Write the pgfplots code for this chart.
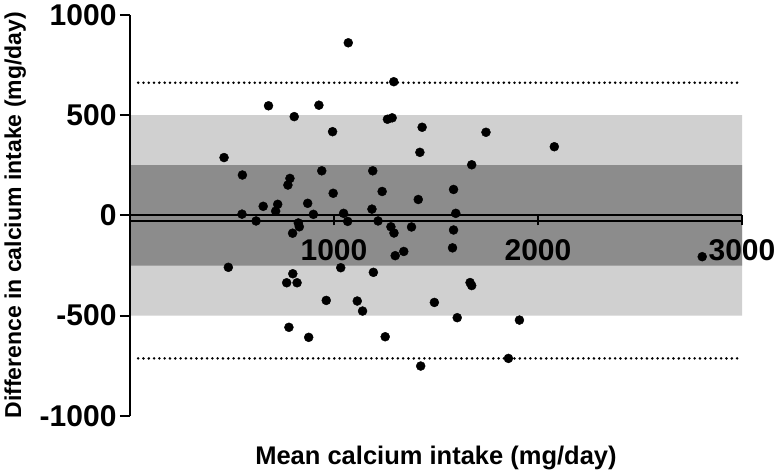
\documentclass[border=0pt]{standalone}
\usepackage{pgfplots}
\pgfplotsset{compat=1.18}
\usepackage{fontspec}
\setmainfont{Liberation Sans}
\definecolor{lightband}{RGB}{208,208,208}
\definecolor{darkband}{RGB}{140,140,140}
\pgfplotstableread{
x y
461 288
482 -259
551 201
549 6
618 -28
653 45
679 546
724 55
714 21
768 -336
779 -558
774 151
784 184
797 -89
798 -291
805 492
819 -336
825 -38
830 -57
871 60
876 -608
899 5
926 549
940 222
962 -424
993 417
996 110
1033 -261
1047 10
1067 -30
1070 860
1114 -427
1140 -477
1190 222
1186 31
1193 -284
1216 -28
1236 119
1251 -605
1262 479
1285 486
1279 -57
1293 666
1294 -88
1300 -201
1342 -180
1380 -58
1413 79
1421 314
1432 439
1425 -751
1492 -434
1581 -162
1586 129
1586 -73
1597 10
1604 -510
1667 -335
1675 -350
1675 252
1745 414
1855 -713
1909 -522
2080 342
2805 -206
}\points
\begin{document}
\begin{tikzpicture}
\begin{axis}[
  set layers,
  scale only axis,
  width=612pt, height=401.3pt,
  at={(0,0)}, anchor=south west,
  xmin=0, xmax=3000, ymin=-1000, ymax=1000,
  axis y line=left, axis x line=middle,
  axis line style={-, line width=2pt, black},
  y axis line style={line width=2.4pt},
  xtick={1000,2000,3000}, xticklabels={1000,2000,3000},
  ytick={-1000,-500,0,500,1000}, yticklabels={-1000,-500,0,500,1000},
  tick align=outside,
  major tick length=10pt,
  tick style={line width=1.8pt, black},
  xticklabel style={font=\fontsize{30}{30}\selectfont\bfseries, yshift=-11pt},
  yticklabel style={font=\fontsize{30}{30}\selectfont\bfseries},
  every axis x label/.style={at={(axis description cs:0.5,-0.1221)}, anchor=base, font=\fontsize{25.5}{25.5}\selectfont\bfseries},
  every axis y label/.style={at={(axis description cs:-0.1781,0.5)}, rotate=90, anchor=base, font=\fontsize{23}{23}\selectfont\bfseries},
  xlabel={Mean calcium intake (mg/day)},
  ylabel={Difference in calcium intake (mg/day)},
  clip=false,
]
\addplot[fill=lightband, draw=none, on layer=axis background] coordinates {(0,-500) (3000,-500) (3000,500) (0,500) (0,-500)};
\addplot[fill=darkband, draw=none, on layer=axis background] coordinates {(0,-250) (3000,-250) (3000,250) (0,250) (0,-250)};
\addplot[black, line width=1.8pt] coordinates {(0,-27) (3000,-27)};
\addplot[black, line width=2.8pt, line cap=round, dash pattern=on 0pt off 5.3pt] coordinates {(40,661) (3000,661)};
\addplot[black, line width=2.8pt, line cap=round, dash pattern=on 0pt off 5.3pt] coordinates {(40,-713) (3000,-713)};
\addplot[only marks, mark=*, mark size=4.5pt, black] table[x=x, y=y] {\points};
\end{axis}
\pgfresetboundingbox
\path[use as bounding box] (-130pt,-57pt) rectangle (647pt,416pt);
\end{tikzpicture}
\end{document}
